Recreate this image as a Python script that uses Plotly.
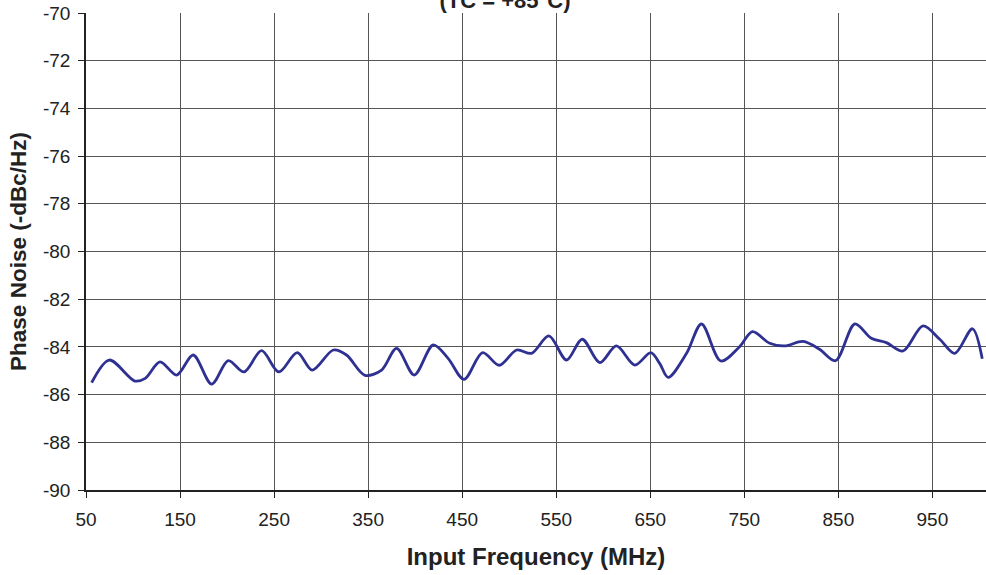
import plotly.graph_objects as go

freq_mhz = [56, 74.8, 102, 113, 128.7, 146.4, 164, 183.6, 201.3, 218, 236.7, 255, 274.6, 290.6,
            313, 327, 346.6, 364.3, 380.3, 399, 419.2, 435, 452, 471.7, 489.4, 507.9, 523.8,
            542.2, 561, 577.6, 596.4, 614, 633.6, 650.6, 660, 669, 688.6, 704.5, 725, 745,
            758.7, 777, 793, 812.5, 830, 847, 867.5, 885, 901, 918.8, 940, 957.8, 973.8,
            992.6, 1003]
phase_noise = [-85.50, -84.55, -85.43, -85.32, -84.63, -85.18, -84.34, -85.56, -84.58, -85.05,
               -84.16, -85.05, -84.24, -84.97, -84.13, -84.34, -85.19, -84.97, -84.06, -85.18,
               -83.92, -84.48, -85.36, -84.24, -84.77, -84.13, -84.27, -83.54, -84.55, -83.68,
               -84.66, -83.96, -84.76, -84.24, -84.69, -85.28, -84.27, -83.04, -84.59, -83.99,
               -83.36, -83.85, -83.96, -83.77, -84.10, -84.58, -83.04, -83.64, -83.82, -84.17,
               -83.12, -83.68, -84.27, -83.24, -84.50]

x_ticks = [50, 150, 250, 350, 450, 550, 650, 750, 850, 950]
y_ticks = [-70, -72, -74, -76, -78, -80, -82, -84, -86, -88, -90]

font_family = "Liberation Sans, Arial, sans-serif"

fig = go.Figure()
fig.add_trace(go.Scatter(
    x=freq_mhz, y=phase_noise, mode="lines",
    line=dict(color="#2e3192", width=2.8, shape="spline", smoothing=0.9),
    showlegend=False, hoverinfo="skip"))

fig.update_layout(
    width=986, height=575,
    margin=dict(l=86, r=0, t=13, b=85, autoexpand=False),
    paper_bgcolor="white", plot_bgcolor="white",
    font=dict(family=font_family, color="#222222", size=19),
    title=dict(text="<b>(TC = +85°C)</b>", x=505/986, xanchor="center",
               xref="container", yref="container", y=1.0, yanchor="middle",
               pad=dict(t=0, b=0),
               font=dict(size=22, color="#222222")),
)
fig.update_xaxes(
    range=[50, 1007], tickvals=x_ticks, ticktext=[str(v) for v in x_ticks],
    showgrid=True, gridcolor="#555555", gridwidth=1.3,
    showline=True, linecolor="#222222", linewidth=1.5,
    ticks="outside", ticklen=6, tickcolor="#222222", tickwidth=1.3,
    tickfont=dict(size=19), zeroline=False, automargin=False, ticklabelstandoff=5,
    title=dict(text="<b>Input Frequency (MHz)</b>", font=dict(size=24), standoff=20))
fig.update_yaxes(
    range=[-90, -70], tickvals=y_ticks, ticktext=[str(v) for v in y_ticks],
    showgrid=True, gridcolor="#555555", gridwidth=1.3,
    showline=True, linecolor="#222222", linewidth=1.5,
    ticks="outside", ticklen=6, tickcolor="#222222", tickwidth=1.3,
    tickfont=dict(size=19), zeroline=False, automargin=False, ticklabelstandoff=4,
    title=dict(text="<b>Phase Noise (-dBc/Hz)</b>", font=dict(size=22.5), standoff=10))

fig.write_html("out.html", config={"displayModeBar": False},
               post_script="document.body.style.margin='0';document.body.style.overflow='hidden';")
